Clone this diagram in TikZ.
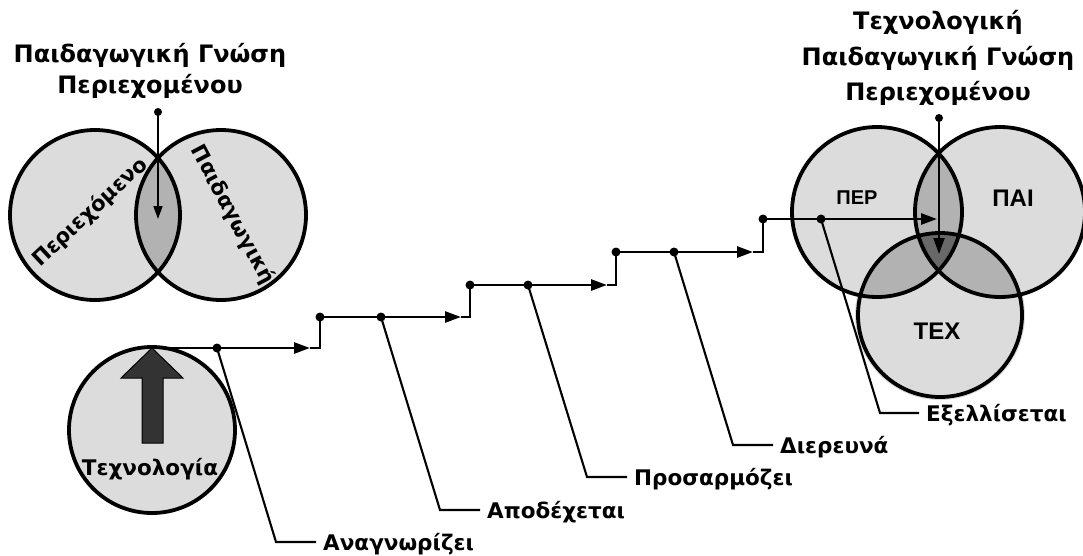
\documentclass[tikz,border=0pt]{standalone}
\usepackage{fontspec}
\setmainfont{DejaVu Sans}
\newfontfamily\titlefont{DejaVu Sans Bold}
\newfontfamily\abbrfont{Liberation Sans}
\usetikzlibrary{arrows.meta}
\definecolor{lgray}{HTML}{DCDCDC}
\definecolor{mgray}{HTML}{B2B2B2}
\definecolor{dgray}{HTML}{686868}
\definecolor{agray}{HTML}{333333}
\begin{document}
\begin{tikzpicture}[x=1pt,y=-1pt,
  ring/.style={line width=3.8pt},
  flow/.style={line width=2.7pt},
  lead/.style={line width=2.1pt},
  tipbig/.style={-{Triangle[length=16pt,width=11pt]}},
  tipsmall/.style={-{Triangle[length=13pt,width=9pt]}},
  dot/.style={circle,fill=black,inner sep=0pt,minimum size=9pt},
  ttl/.style={font=\titlefont\fontsize{24}{30}\selectfont,inner sep=0pt,anchor=base},
  lab/.style={font=\titlefont\fontsize{21.5}{28}\selectfont,inner xsep=7pt,inner ysep=0pt,text height=16pt,text depth=0pt,anchor=west},
  rlab/.style={font=\titlefont\fontsize{21}{28}\selectfont,inner sep=0pt,text height=16pt,text depth=0pt},
  abbr/.style={font=\abbrfont\bfseries\fontsize{24}{28}\selectfont,inner sep=0pt},
  ]
\useasboundingbox (0,0) rectangle (1083,555);

% ---------- left Venn ----------
\coordinate (C1) at (95,215);
\coordinate (P1) at (221,215);
\fill[lgray] (C1) circle[radius=85pt];
\fill[lgray] (P1) circle[radius=85pt];
\begin{scope}
  \clip (C1) circle[radius=85pt];
  \fill[mgray] (P1) circle[radius=85pt];
\end{scope}
\draw[ring] (C1) circle[radius=85pt];
\draw[ring] (P1) circle[radius=85pt];
\node[rlab,rotate=43] (per1) at (89,211) {Περιεχόμενο};
\node[rlab,rotate=-62] (pai1) at (234,214) {Παιδαγωγική};
\node[ttl] (lt1) at (150,62) {Παιδαγωγική Γνώση};
\node[ttl] (lt2) at (150,93) {Περιεχομένου};
\node[dot,minimum size=8pt] (ld) at (158,112) {};
\coordinate (lend) at (158,219);
\draw[line width=1.8pt,tipsmall] (ld.center) -- (lend);

% ---------- right Venn ----------
\coordinate (C2) at (877,212);
\coordinate (P2) at (1000,212);
\coordinate (T2) at (940,315);
\foreach \c in {C2,P2,T2} \fill[lgray] (\c) circle[radius=85pt];
\begin{scope}\clip (C2) circle[radius=85pt]; \fill[mgray] (P2) circle[radius=85pt]; \end{scope}
\begin{scope}\clip (C2) circle[radius=85pt]; \fill[mgray] (T2) circle[radius=82pt]; \end{scope}
\begin{scope}\clip (P2) circle[radius=85pt]; \fill[mgray] (T2) circle[radius=82pt]; \end{scope}
\begin{scope}\clip (C2) circle[radius=85pt]; \clip (P2) circle[radius=85pt]; \fill[dgray] (T2) circle[radius=82pt]; \end{scope}
\draw[ring] (C2) circle[radius=85pt];
\draw[ring] (P2) circle[radius=85pt];
\draw[ring] (T2) circle[radius=82pt];
\node[abbr,font=\abbrfont\bfseries\fontsize{20}{22}\selectfont] (per2) at (857,198) {ΠΕΡ};
\node[abbr] (pai2) at (1013,198) {ΠΑΙ};
\node[abbr] (tex2) at (937,331) {ΤΕΧ};
\node[ttl] (rt1) at (938,29) {Τεχνολογική};
\node[ttl] (rt2) at (938,65) {Παιδαγωγική Γνώση};
\node[ttl] (rt3) at (938,100) {Περιεχομένου};
\node[dot,minimum size=8pt] (rd) at (939,118) {};
\coordinate (rend) at (939,254);
\draw[line width=2pt,tipbig] (rd.center) -- (rend);

% ---------- technology circle ----------
\coordinate (T0) at (152,430);
\fill[lgray] (T0) circle[radius=83pt];
\draw[ring] (T0) circle[radius=83pt];
\coordinate (ttop) at (152,348);
\filldraw[fill=agray,draw=black,line width=1pt,line join=miter]
  (ttop) -- (183,378) -- (163,378) -- (163,443) -- (142,443) -- (142,378) -- (121,378) -- cycle;
\node[rlab,font=\titlefont\fontsize{21.5}{28}\selectfont] (tech) at (150,467) {Τεχνολογία};

% ---------- staircase ----------
\node[dot] (d0) at (217,348) {};
\node[dot] (s1) at (320,317) {};
\node[dot] (d1) at (381,317) {};
\node[dot] (s2) at (470,285) {};
\node[dot] (d2) at (528,285) {};
\node[dot] (s3) at (616,252) {};
\node[dot] (d3) at (674,252) {};
\node[dot] (s4) at (763,219) {};
\node[dot] (d4) at (821,219) {};
\coordinate (a1) at (310,348); \coordinate (k1) at (320,348);
\coordinate (a2) at (461,317); \coordinate (k2) at (470,317);
\coordinate (a3) at (607,285); \coordinate (k3) at (616,285);
\coordinate (a4) at (753,252); \coordinate (k4) at (763,252);
\coordinate (a5) at (937,219);
\draw[flow,tipbig] (ttop) -- (a1);
\draw[flow] (a1) -- (k1) -- (s1.center);
\draw[flow,tipbig] (s1.center) -- (a2);
\draw[flow] (a2) -- (k2) -- (s2.center);
\draw[flow,tipbig] (s2.center) -- (a3);
\draw[flow] (a3) -- (k3) -- (s3.center);
\draw[flow,tipbig] (s3.center) -- (a4);
\draw[flow] (a4) -- (k4) -- (s4.center);
\draw[flow,tipbig] (s4.center) -- (a5);

% ---------- leaders ----------
\coordinate (e0) at (276,542);
\coordinate (e1) at (440,510);
\coordinate (e2) at (587,477);
\coordinate (e3) at (733,445);
\coordinate (e4) at (880,413);
\node[lab] (l0) at (316,542) {Αναγνωρίζει};
\node[lab] (l1) at (480,510) {Αποδέχεται};
\node[lab] (l2) at (627,477) {Προσαρμόζει};
\node[lab] (l3) at (773,445) {Διερευνά};
\node[lab] (l4) at (919,413) {Εξελλίσεται};
\draw[lead] (d0.center) -- (e0) -- (l0.west);
\draw[lead] (d1.center) -- (e1) -- (l1.west);
\draw[lead] (d2.center) -- (e2) -- (l2.west);
\draw[lead] (d3.center) -- (e3) -- (l3.west);
\draw[lead] (d4.center) -- (e4) -- (l4.west);
\end{tikzpicture}
\end{document}
